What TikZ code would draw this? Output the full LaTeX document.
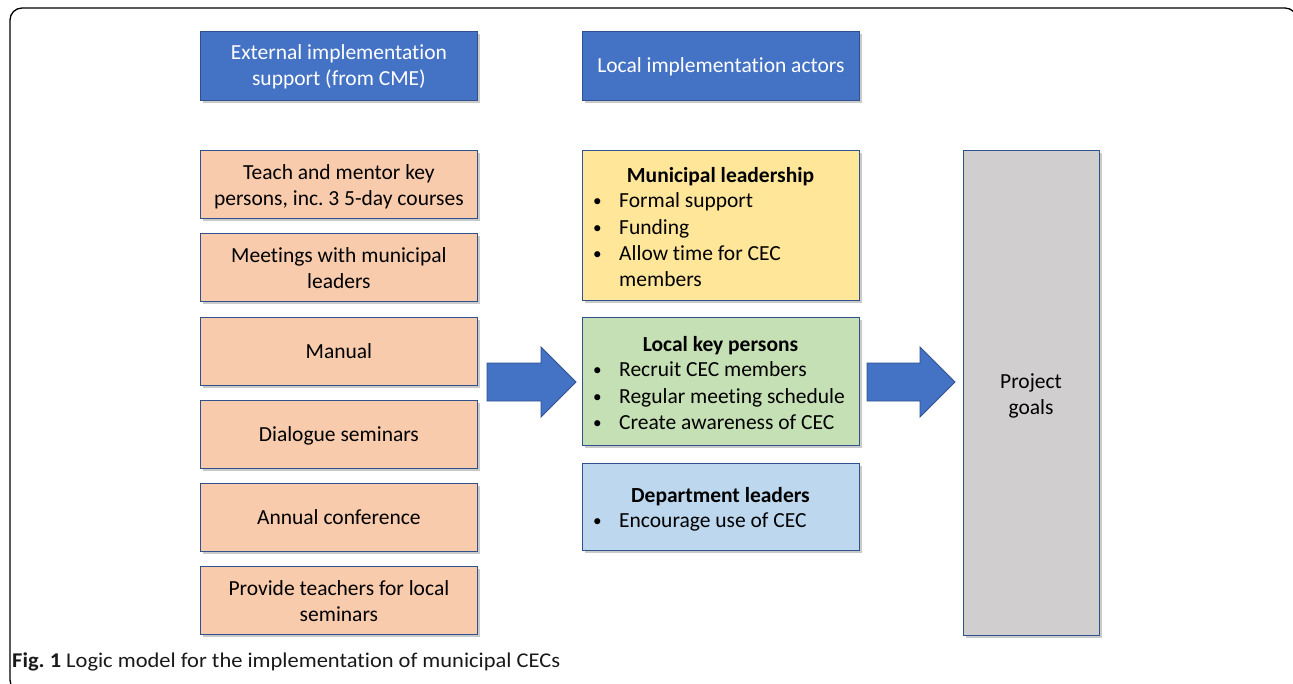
\documentclass[tikz,border=0pt]{standalone}
\usepackage{fontspec}
\setmainfont{Carlito}[Ligatures={NoCommon}]
\usetikzlibrary{shadows}
\definecolor{hdrblue}{HTML}{4472C4}
\definecolor{edgeblue}{HTML}{2F528F}
\definecolor{peach}{HTML}{F8CBAD}
\definecolor{ylw}{HTML}{FFE699}
\definecolor{grn}{HTML}{C5E0B4}
\definecolor{lblue}{HTML}{BDD7EE}
\definecolor{gry}{HTML}{D0CECE}
\newcommand{\smbul}{\raisebox{1pt}{\scalebox{0.8}{•}}}
\newcommand{\lowr}[2]{\raisebox{-#1}[\height][\depth]{\begin{tabular}{@{}c@{}}#2\end{tabular}}}
\frenchspacing
\begin{document}
\begin{tikzpicture}[x=1pt,y=-1pt,
  boxbase/.style={draw=edgeblue,line width=0.8pt,inner sep=0pt,anchor=north west,
     drop shadow={opacity=0.35,shadow xshift=3pt,shadow yshift=-3pt,fill=black!60}},
  hdr/.style={boxbase,fill=hdrblue,text=white,minimum width=277pt,minimum height=69pt,align=center,
     font=\fontsize{21.5}{26}\selectfont},
  act/.style={boxbase,fill=peach,minimum width=277pt,minimum height=68pt,align=center,
     font=\fontsize{21.5}{26}\selectfont},
  mid/.style={boxbase,minimum width=277pt},
  ttl/.style={font=\fontsize{21.5}{26}\selectfont\bfseries,inner sep=0pt,text height=15pt,text depth=5pt},
  itm/.style={font=\fontsize{21.5}{26}\selectfont,inner sep=0pt,anchor=west,text height=15pt,text depth=5pt},
  bigarrow/.style={fill=hdrblue,draw=edgeblue,line width=0.8pt}
]
\useasboundingbox (0,0) rectangle (1293,683);
\draw[line width=1.3pt,rounded corners=12pt] (10,8) rectangle (1297,692);

% headers
\node[hdr] (h1) at (200,31) {\lowr{1.5pt}{External implementation\\support (from CME)}};
\node[hdr] (h2) at (582,31) {\lowr{1.5pt}{Local implementation actors}};

% left activity boxes
\node[act] (a1) at (200,150) {\lowr{3pt}{Teach and mentor key\\persons, inc. 3 5-day courses}};
\node[act] (a2) at (200,233) {\lowr{3pt}{Meetings with municipal\\leaders}};
\node[act] (a3) at (200,317) {\lowr{1.5pt}{Manual}};
\node[act] (a4) at (200,400) {\lowr{1.5pt}{Dialogue seminars}};
\node[act] (a5) at (200,483) {\lowr{1.5pt}{Annual conference}};
\node[act] (a6) at (200,566) {\lowr{3pt}{Provide teachers for local\\seminars}};

% middle boxes
\node[mid,fill=ylw,minimum height=150pt] (m1) at (582,150) {};
\node[ttl] (m1t) at (720.5,177) {Municipal leadership};
\node[itm] (m1b1) at (593,202) {\smbul};
\node[itm] (m1i1) at (619,202) {Formal support};
\node[itm] (m1b2) at (593,229) {\smbul};
\node[itm] (m1i2) at (619,229) {Funding};
\node[itm] (m1b3) at (593,255) {\smbul};
\node[itm] (m1i3) at (619,255) {Allow time for CEC};
\node[itm] (m1i4) at (619,281) {members};

\node[mid,fill=grn,minimum height=128pt] (m2) at (582,317) {};
\node[ttl] (m2t) at (720.5,346) {Local key persons};
\node[itm] (m2b1) at (593,371) {\smbul};
\node[itm] (m2i1) at (619,371) {Recruit CEC members};
\node[itm] (m2b2) at (593,398) {\smbul};
\node[itm] (m2i2) at (619,398) {Regular meeting schedule};
\node[itm] (m2b3) at (593,424) {\smbul};
\node[itm] (m2i3) at (619,424) {Create awareness of CEC};

\node[mid,fill=lblue,minimum height=87pt] (m3) at (582,463) {};
\node[ttl] (m3t) at (720.5,497) {Department leaders};
\node[itm] (m3b1) at (593,522) {\smbul};
\node[itm] (m3i1) at (619,522) {Encourage use of CEC};

% goals
\node[boxbase,fill=gry,minimum width=136pt,minimum height=485pt] (g) at (963,150) {};
\node[font=\fontsize{21.5}{26}\selectfont,align=center,inner sep=0pt] (gt) at (1031,396) {Project\\goals};

% arrows
\coordinate (ar1) at (487,382);
\draw[bigarrow] (ar1) ++(0,-19) -- ++(54,0) -- ++(0,-16) -- (576,382) -- (541,417) -- (541,401) -- (487,401) -- cycle;
\coordinate (ar2) at (867,382);
\draw[bigarrow] (ar2) ++(0,-19) -- ++(53,0) -- ++(0,-16) -- (955,382) -- (920,417) -- (920,401) -- (867,401) -- cycle;

% caption
\node[anchor=west,inner sep=0pt,font=\fontsize{21}{24}\selectfont,text=black!90] (cap) at (12,662)
  {\scalebox{1.07}[1]{\textbf{Fig. 1} Logic model for the implementation of municipal CECs}};
\end{tikzpicture}
\end{document}
